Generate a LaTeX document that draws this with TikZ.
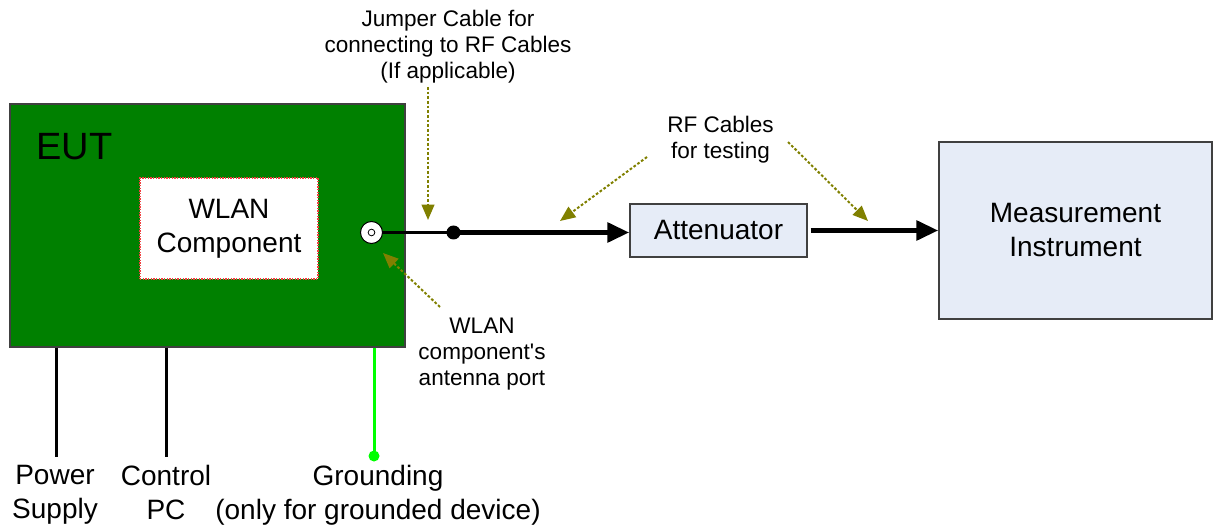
\documentclass[tikz,border=0pt]{standalone}
\usepackage{fontspec}
\setmainfont{Liberation Sans}
\usetikzlibrary{arrows.meta}
\definecolor{eutgreen}{HTML}{008000}
\definecolor{boxblue}{HTML}{E6ECF7}
\definecolor{olivec}{HTML}{808000}
\definecolor{gndgreen}{HTML}{00FF00}
\definecolor{bordergray}{HTML}{404040}
\definecolor{dotred}{HTML}{F04040}
\begin{document}
\begin{tikzpicture}[x=0.75pt,y=-0.75pt,
  big/.style={font=\fontsize{21}{25.5}\selectfont, align=center},
  small/.style={font=\fontsize{16.9}{19.5}\selectfont, align=center},
  box/.style={draw=bordergray, line width=1.1pt, fill=boxblue, inner sep=0pt},
  note/.style={olivec, line width=1.5pt, dash pattern=on 2pt off 1.5pt, -{Triangle[length=11.5pt,width=9.5pt]}},
  cable/.style={line width=3.75pt, -{Triangle[length=16.5pt,width=14.5pt]}},
  wire/.style={line width=2.25pt},
  lbl/.style={big, anchor=north, inner sep=0pt},
  slbl/.style={small, anchor=north, inner sep=0pt}]
\useasboundingbox (0,0) rectangle (1213,527);
% EUT
\node[draw=bordergray, line width=1.1pt, fill=eutgreen, minimum width=296.25pt, minimum height=182.25pt, inner sep=0pt] (eut) at (207.5,225.5) {};
\node[anchor=base west, inner sep=0pt, font=\fontsize{28.5}{34}\selectfont] (eutlbl) at (36,160) {EUT};
\node[fill=white, draw=dotred, line width=1pt, dash pattern=on 1pt off 1pt, minimum width=133.5pt, minimum height=75.75pt, big, inner sep=0pt] (wlan) at (229,228.5) {WLAN\\Component};
% port and dot
\node[circle, draw=black, fill=white, line width=0.75pt, minimum size=16.5pt, inner sep=0pt] (port) at (371.5,232.5) {};
\node[circle, draw=black, line width=0.6pt, minimum size=5pt, inner sep=0pt] (portin) at (371.5,232.5) {};
\node[circle, fill=black, minimum size=10.5pt, inner sep=0pt] (jdot) at (453.5,232.5) {};
% boxes
\node[box, big, minimum width=132.75pt, minimum height=39.75pt] (att) at (718.5,230.5) {Attenuator};
\node[box, big, minimum width=204.75pt, minimum height=132.75pt] (meas) at (1075.5,230.5) {Measurement\\Instrument};
% cables
\draw[wire] (port.east) -- (jdot.center);
\draw[cable] (jdot.center) -- (jdot.center -| att.west);
\draw[cable, shorten <=2.25pt] (att.east) -- (meas.west);
% bottom wires
\coordinate (psend) at (56,457);
\coordinate (pcend) at (166,457);
\node[circle, fill=gndgreen, minimum size=8.25pt, inner sep=0pt] (gdot) at (374,456) {};
\draw[wire] (eut.south -| psend) -- (psend);
\draw[wire] (eut.south -| pcend) -- (pcend);
\draw[wire, gndgreen] (eut.south -| gdot) -- (gdot.center);
% bottom labels
\node[lbl] (ps) at (55,465) {Power\\Supply};
\node[lbl] (pc) at (166,465) {Control\\PC};
\node[lbl] (gnd) at (378,465) {Grounding\\(only for grounded device)};
% small labels
\node[slbl] (jlbl) at (448,9.6) {Jumper Cable for\\connecting to RF Cables\\(If applicable)};
\node[slbl] (rflbl) at (720.5,115.6) {RF Cables\\for testing};
\node[slbl] (plbl) at (482,318) {WLAN\\component\textquotesingle s\\antenna port};
% annotation arrows
\coordinate (j1) at (428,87); \coordinate (j2) at (428,220);
\coordinate (r1) at (647,157); \coordinate (r2) at (560,221);
\coordinate (r3) at (788,142); \coordinate (r4) at (868,221);
\coordinate (a1) at (440,307); \coordinate (a2) at (383,253);
\draw[note] (j1) -- (j2);
\draw[note] (r1) -- (r2);
\draw[note] (r3) -- (r4);
\draw[note] (a1) -- (a2);
\end{tikzpicture}
\end{document}
